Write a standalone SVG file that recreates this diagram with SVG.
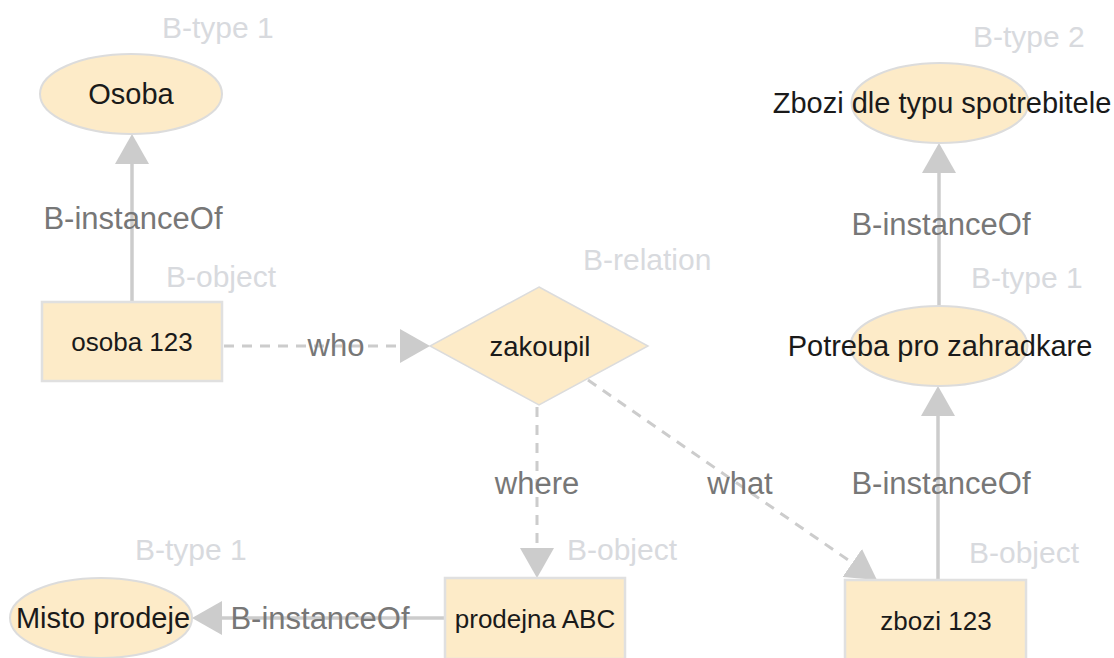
<svg xmlns="http://www.w3.org/2000/svg" width="1114" height="658" viewBox="0 0 1114 658">
  <defs>
    <style>
      .ell { fill: #fdebc8; stroke: #dcdcdc; stroke-width: 2; }
      .box { fill: #fdebc8; stroke: #e0e0e0; stroke-width: 2.5; }
      .dia { fill: #fdebc8; stroke: #dcdcdc; stroke-width: 1.5; }
      .name { font-family: "Liberation Sans", Arial, sans-serif; fill: #1a1a1a; text-anchor: middle; }
      .ename { font-size: 29px; }
      .bname { font-size: 26px; }
      .kind { font-family: "Liberation Sans", Arial, sans-serif; font-size: 30px; fill: #d8dade; }
      .solid { stroke: #cccccc; stroke-width: 3.5; fill: none; marker-end: url(#head); }
      .dash { stroke: #cccccc; stroke-width: 3; fill: none; stroke-dasharray: 10 8; marker-end: url(#head); }
      .lbl { font-family: "Liberation Sans", Arial, sans-serif; font-size: 31px; fill: #777777; text-anchor: middle; }
    </style>
    <marker id="head" markerUnits="userSpaceOnUse" markerWidth="30" markerHeight="34" refX="0" refY="17" orient="auto" viewBox="0 0 30 34">
      <path d="M0,0 L30,17 L0,34 Z" fill="#cccccc"/>
    </marker>
  </defs>

  <rect width="1114" height="658" fill="#ffffff"/>

  <!-- connectors: lines end at the arrow base, the marker supplies the head -->
  <g id="connectors">
    <line class="solid" x1="132" y1="302" x2="132" y2="164"/>
    <line class="dash" x1="224" y1="346" x2="400" y2="346"/>
    <line class="dash" x1="537" y1="407" x2="537" y2="548"/>
    <line class="dash" x1="588" y1="380" x2="852.3" y2="562.9"/>
    <line class="solid" x1="939" y1="306" x2="939" y2="173"/>
    <line class="solid" x1="938" y1="580" x2="938" y2="416"/>
    <line class="solid" x1="445" y1="618" x2="222" y2="618"/>

    <text class="lbl" x="133" y="229">B-instanceOf</text>
    <text class="lbl" x="336" y="356">who</text>
    <text class="lbl" x="537" y="494">where</text>
    <text class="lbl" x="740" y="494">what</text>
    <text class="lbl" x="941" y="235">B-instanceOf</text>
    <text class="lbl" x="941" y="494">B-instanceOf</text>
    <text class="lbl" x="320" y="629">B-instanceOf</text>
  </g>

  <g id="node-osoba">
    <ellipse class="ell" cx="131" cy="94" rx="91" ry="40"/>
    <text class="name ename" x="131" y="104">Osoba</text>
    <text class="kind" x="162" y="38">B-type 1</text>
  </g>

  <g id="node-osoba-123">
    <rect class="box" x="42" y="302" width="180" height="79"/>
    <text class="name bname" x="132" y="351">osoba 123</text>
    <text class="kind" x="166" y="287">B-object</text>
  </g>

  <g id="node-zakoupil">
    <polygon class="dia" points="539,287 648,346 539,405 430,346"/>
    <text class="name" style="font-size:27.5px" x="540" y="356">zakoupil</text>
    <text class="kind" x="583" y="270">B-relation</text>
  </g>

  <g id="node-zbozi-typ">
    <ellipse class="ell" cx="940" cy="103" rx="88.5" ry="40"/>
    <text class="name ename" x="942" y="113">Zbozi dle typu spotrebitele</text>
    <text class="kind" x="973" y="47">B-type 2</text>
  </g>

  <g id="node-potreba">
    <ellipse class="ell" cx="939" cy="346" rx="88.5" ry="40"/>
    <text class="name ename" x="940" y="356">Potreba pro zahradkare</text>
    <text class="kind" x="971" y="288">B-type 1</text>
  </g>

  <g id="node-misto-prodeje">
    <ellipse class="ell" cx="101" cy="618" rx="91" ry="40"/>
    <text class="name ename" x="103" y="628">Misto prodeje</text>
    <text class="kind" x="135" y="560">B-type 1</text>
  </g>

  <g id="node-prodejna-abc">
    <rect class="box" x="445" y="578" width="180" height="81"/>
    <text class="name bname" x="535" y="628">prodejna ABC</text>
    <text class="kind" x="567" y="560">B-object</text>
  </g>

  <g id="node-zbozi-123">
    <rect class="box" x="845" y="580" width="181" height="80"/>
    <text class="name bname" x="936" y="630">zbozi 123</text>
    <text class="kind" x="969" y="563">B-object</text>
  </g>
</svg>
